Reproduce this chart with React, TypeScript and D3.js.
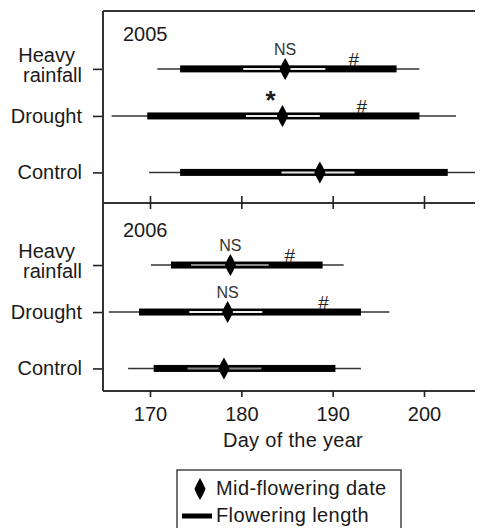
import React, { useEffect, useRef } from 'react';
import * as d3 from 'd3';

// treatment rows, top to bottom
const groups = ['Heavy rainfall', 'Drought', 'Control'];
const rowPos = [3, 2, 0.8];
const xTicks = [170, 180, 190, 200];

// 2005 (day of year)
const min2005 = [170.8, 165.8, 169.9];
const max2005 = [199.5, 203.5, 205.9];
const start2005 = [173.3, 169.7, 173.3];
const end2005 = [197.0, 199.5, 202.6];
const ciLow2005 = [180.2, 180.5, 184.4];
const ciHigh2005 = [189.2, 188.6, 192.4];
const mid2005 = [184.8, 184.5, 188.6];
const midMark2005 = ['NS', '*', ''];
const midMarkDay2005 = [184.8, 183.2, 0];
const lenMarkDay2005 = [192.3, 193.2, 0];

// 2006
const min2006 = [170.1, 165.5, 167.6];
const max2006 = [191.2, 196.2, 193.1];
const start2006 = [172.3, 168.8, 170.4];
const end2006 = [188.9, 193.1, 190.3];
const ciLow2006 = [174.5, 174.3, 174.1];
const ciHigh2006 = [183.0, 182.3, 182.2];
const mid2006 = [178.8, 178.5, 178.1];
const midMark2006 = ['NS', 'NS', ''];
const midMarkDay2006 = [178.8, 178.5, 0];
const lenMarkDay2006 = [185.3, 189.0, 0];

const FONT = '"Liberation Sans", Arial, Helvetica, sans-serif';

const diamond = (w, h) => {
  const k = 0.28;
  return `M0,${-h / 2}Q${w * k},${-h * k} ${w / 2},0Q${w * k},${h * k} 0,${h / 2}` +
    `Q${-w * k},${h * k} ${-w / 2},0Q${-w * k},${-h * k} 0,${-h / 2}Z`;
};

export default function App() {
  const ref = useRef(null);

  useEffect(() => {
    const width = 483, height = 532;
    const svg = d3.select(ref.current);
    svg.selectAll('*').remove();
    svg.attr('width', width).attr('height', height);

    const left = 103, right = 485, top = 11, mid = 203, bottom = 391;
    const x = d3.scaleLinear().domain([164.854, 206.68]).range([left, right]);

    const panels = [
      {
        year: '2005', y0: top, y1: mid, dom: [0.15, 4.23],
        min: min2005, max: max2005, start: start2005, end: end2005,
        lo: ciLow2005, hi: ciHigh2005, mid: mid2005,
        mark: midMark2005, markDay: midMarkDay2005, lenDay: lenMarkDay2005,
        ciColor: ['#e8e8e8', '#e8e8e8', '#e8e8e8'],
      },
      {
        year: '2006', y0: mid, y1: bottom, dom: [0.32, 4.32],
        min: min2006, max: max2006, start: start2006, end: end2006,
        lo: ciLow2006, hi: ciHigh2006, mid: mid2006,
        mark: midMark2006, markDay: midMarkDay2006, lenDay: lenMarkDay2006,
        ciColor: ['#8a8a8a', '#eeeeee', '#8a8a8a'],
      },
    ];

    const root = svg.append('g').style('font-family', FONT).attr('fill', '#1a1a1a');
    const fs = '20px';

    panels.forEach((p) => {
      const y = d3.scaleLinear().domain(p.dom).range([p.y1, p.y0]);
      const g = root.append('g');

      // y ticks
      const ax = g.append('g')
        .attr('transform', `translate(${left},0)`)
        .call(d3.axisLeft(y).tickValues(rowPos).tickSize(10).tickFormat(() => ''));
      ax.select('.domain').remove();
      ax.selectAll('line').attr('stroke', '#222').attr('stroke-width', 1.6);

      // labels
      groups.forEach((name, i) => {
        const yy = y(rowPos[i]);
        if (name === 'Heavy rainfall') {
          g.append('text').attr('x', 75).attr('y', yy - 7).attr('text-anchor', 'end')
            .style('font-size', fs).text('Heavy');
          g.append('text').attr('x', 82).attr('y', yy + 13).attr('text-anchor', 'end')
            .style('font-size', fs).text('rainfall');
        } else {
          g.append('text').attr('x', 82).attr('y', yy + 7).attr('text-anchor', 'end')
            .style('font-size', fs).text(name);
        }
      });

      g.append('text').attr('x', 123).attr('y', p.y0 + (p.year === '2005' ? 30 : 34))
        .style('font-size', fs).text(p.year);

      groups.forEach((_, i) => {
        const yy = y(rowPos[i]);
        g.append('line')
          .attr('x1', x(p.min[i])).attr('x2', x(p.max[i]))
          .attr('y1', yy).attr('y2', yy)
          .attr('stroke', '#333').attr('stroke-width', 1.5);
        g.append('rect')
          .attr('x', x(p.start[i])).attr('width', x(p.end[i]) - x(p.start[i]))
          .attr('y', yy - 3.5).attr('height', 7)
          .attr('fill', '#000');
        g.append('line')
          .attr('x1', x(p.lo[i])).attr('x2', x(p.hi[i]))
          .attr('y1', yy).attr('y2', yy)
          .attr('stroke', p.ciColor[i]).attr('stroke-width', 2);
        g.append('path')
          .attr('d', diamond(11, 22))
          .attr('transform', `translate(${x(p.mid[i])},${yy})`)
          .attr('fill', '#000');

        if (p.mark[i] === '*') {
          g.append('text').attr('x', x(p.markDay[i])).attr('y', yy - 7)
            .attr('text-anchor', 'middle').style('font-size', '26px').style('font-weight', 'bold')
            .text('*');
        } else if (p.mark[i]) {
          g.append('text').attr('x', x(p.markDay[i])).attr('y', yy - 14)
            .attr('text-anchor', 'middle').style('font-size', '16px').attr('fill', '#333')
            .text(p.mark[i]);
        }
        if (p.lenDay[i]) {
          g.append('text').attr('x', x(p.lenDay[i])).attr('y', yy - 3)
            .attr('text-anchor', 'middle').style('font-size', '19px').attr('fill', '#222')
            .text('#');
        }
      });
    });

    // frame
    const frame = root.append('g').attr('stroke', '#333').attr('stroke-width', 2).attr('fill', 'none');
    frame.append('line').attr('x1', left).attr('x2', right).attr('y1', top).attr('y2', top);
    frame.append('line').attr('x1', left).attr('x2', left).attr('y1', top).attr('y2', bottom);
    frame.append('line').attr('x1', left).attr('x2', right).attr('y1', mid).attr('y2', mid);
    frame.append('line').attr('x1', left).attr('x2', right).attr('y1', bottom).attr('y2', bottom);

    // ticks across the divider
    const up = root.append('g').attr('transform', `translate(0,${mid})`)
      .call(d3.axisTop(x).tickValues(xTicks).tickSize(7).tickFormat(() => ''));
    const down = root.append('g').attr('transform', `translate(0,${mid})`)
      .call(d3.axisBottom(x).tickValues(xTicks).tickSize(6).tickFormat(() => ''));
    [up, down].forEach((a) => {
      a.select('.domain').remove();
      a.selectAll('line').attr('stroke', '#222').attr('stroke-width', 1.6);
    });

    // bottom axis
    const xb = root.append('g').attr('transform', `translate(0,${bottom})`)
      .call(d3.axisBottom(x).tickValues(xTicks).tickSize(6).tickPadding(10));
    xb.select('.domain').remove();
    xb.selectAll('line').attr('stroke', '#222').attr('stroke-width', 1.6);
    xb.selectAll('text').style('font-size', fs).style('font-family', FONT).attr('fill', '#1a1a1a');

    root.append('text').attr('x', 293).attr('y', 447).attr('text-anchor', 'middle')
      .style('font-size', fs).style('letter-spacing', '0.3px').text('Day of the year');

    // legend
    const lg = root.append('g');
    lg.append('rect').attr('x', 177).attr('y', 470).attr('width', 224).attr('height', 80)
      .attr('fill', 'none').attr('stroke', '#444').attr('stroke-width', 1.5);
    lg.append('path').attr('d', diamond(11, 22)).attr('transform', 'translate(200,489)').attr('fill', '#000');
    lg.append('text').attr('x', 216).attr('y', 495).style('font-size', fs)
      .style('letter-spacing', '0.4px').text('Mid-flowering date');
    lg.append('line').attr('x1', 182).attr('x2', 212).attr('y1', 516).attr('y2', 516)
      .attr('stroke', '#000').attr('stroke-width', 5);
    lg.append('text').attr('x', 216).attr('y', 522).style('font-size', fs)
      .style('letter-spacing', '0.4px').text('Flowering length');
  });

  return (
    <div style={{ margin: -8 }}>
      <svg ref={ref}></svg>
    </div>
  );
}
